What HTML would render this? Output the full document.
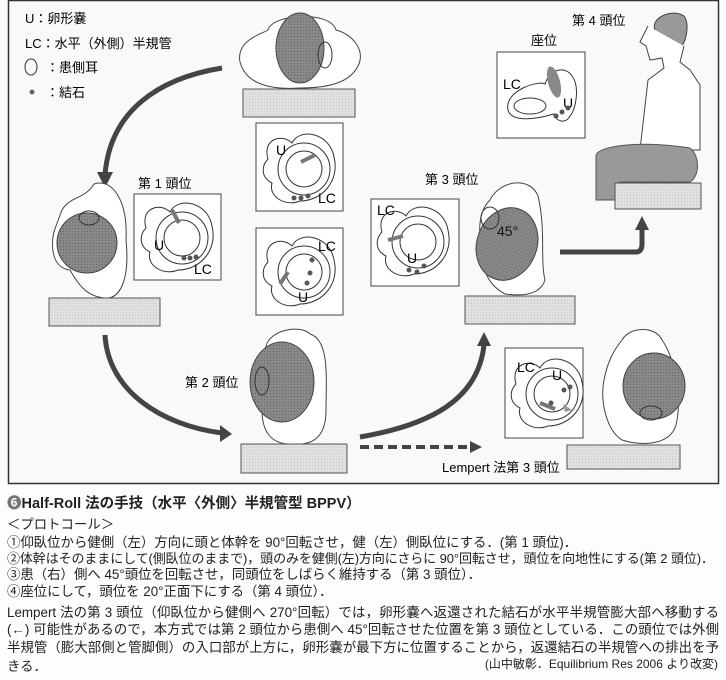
<!DOCTYPE html>
<html><head><meta charset="utf-8"><style>
body{margin:0;background:#fff;}
#w{position:relative;width:726px;height:680px;overflow:hidden;background:#fdfdfc;font-family:"Liberation Sans","Noto Sans CJK JP",sans-serif;color:#222;}
svg{position:absolute;left:0;top:0}
.t{position:absolute;left:7px;font-size:13.4px;line-height:16px;white-space:nowrap;letter-spacing:0}
.j{width:712px;text-align:justify;text-align-last:justify;white-space:normal;height:16px;overflow:hidden}
</style></head><body><div id="w">
<svg width="726" height="490" viewBox="0 0 726 490" font-family="Liberation Sans, Noto Sans CJK JP, sans-serif">
<defs>
<pattern id="g" width="3" height="3" patternUnits="userSpaceOnUse"><rect width="3" height="3" fill="#e0e0e0"/><rect width="1" height="1" fill="#c8c8c8"/></pattern>
<pattern id="h" width="3" height="3" patternUnits="userSpaceOnUse"><rect width="3" height="3" fill="#888"/><rect width="1" height="1" fill="#666"/></pattern>
<g id="canal">
<path d="M-32,-8 C-38,-28 -18,-34 -8,-24 C0,-40 30,-34 34,-10 C40,14 22,34 0,34 C-14,40 -32,30 -28,16 C-40,10 -38,-2 -32,-8 Z" fill="#fff" stroke="#333" stroke-width="1"/>
<circle cx="4" cy="2" r="26" fill="none" stroke="#333" stroke-width="1"/>
<circle cx="4" cy="2" r="18" fill="#fff" stroke="#333" stroke-width="1"/>
</g>
</defs>
<rect x="8.5" y="0.5" width="710" height="483" fill="#f9f9f8" stroke="#333" stroke-width="1.5"/>
<text x="25" y="23" font-size="13">U：卵形嚢</text>
<text x="25" y="48" font-size="13">LC：水平（外側）半規管</text>
<ellipse cx="31" cy="67" rx="6" ry="8" fill="none" stroke="#333"/>
<text x="46" y="72" font-size="13">：患側耳</text>
<circle cx="32" cy="92" r="2.5" fill="#666"/>
<text x="46" y="97" font-size="13">：結石</text>
<path d="M240,62 C236,40 262,34 268,30 C272,14 330,10 336,30 C352,34 366,50 358,66 C350,82 330,88 300,88 C270,90 246,84 240,62Z" fill="#fff" stroke="#444"/>
<ellipse cx="300" cy="48" rx="24" ry="35" fill="url(#h)" stroke="#444"/>
<ellipse cx="325" cy="55" rx="7" ry="13" fill="none" stroke="#333"/>
<rect x="243" y="89" width="112" height="28" fill="url(#g)" stroke="#555"/>
<rect x="256" y="123" width="87" height="88" fill="#fff" stroke="#444"/>
<use href="#canal" x="300" y="167"/>
<text x="276" y="155" font-size="14">U</text><text x="318" y="203" font-size="14">LC</text>
<line x1="301" y1="162" x2="315" y2="155" stroke="#777" stroke-width="4"/>
<circle cx="294" cy="198" r="2.5" fill="#555"/><circle cx="301" cy="198" r="2.5" fill="#555"/><circle cx="308" cy="196" r="2.5" fill="#555"/>
<rect x="256" y="228" width="87" height="87" fill="#fff" stroke="#444"/>
<use href="#canal" x="300" y="270"/>
<text x="318" y="251" font-size="14">LC</text><text x="298" y="302" font-size="14">U</text>
<line x1="280" y1="284" x2="288" y2="272" stroke="#777" stroke-width="4"/>
<circle cx="312" cy="260" r="2.5" fill="#555"/><circle cx="310" cy="273" r="2.5" fill="#555"/><circle cx="307" cy="283" r="2.5" fill="#555"/>
<path d="M222,68 C160,78 110,110 105,175" fill="none" stroke="#444" stroke-width="5"/>
<polygon points="97,172 113,172 105,188" fill="#444"/>
<text x="138" y="188" font-size="13">第 1 頭位</text>
<path d="M62,210 C70,196 84,200 94,184 C112,178 128,200 126,240 C130,280 120,300 104,298 C86,296 78,284 70,270 C50,268 50,240 56,226 Z" fill="#fff" stroke="#444"/>
<ellipse cx="87" cy="243" rx="30" ry="30" fill="url(#h)" stroke="#444"/>
<ellipse cx="89" cy="218" rx="10" ry="7" fill="none" stroke="#333"/>
<rect x="49" y="298" width="111" height="28" fill="url(#g)" stroke="#555"/>
<rect x="134" y="194" width="87" height="86" fill="#fff" stroke="#444"/>
<use href="#canal" x="178" y="236"/>
<text x="154" y="250" font-size="14">U</text><text x="194" y="274" font-size="14">LC</text>
<line x1="172" y1="210" x2="179" y2="223" stroke="#777" stroke-width="4"/>
<circle cx="184" cy="258" r="2.5" fill="#555"/><circle cx="190" cy="258" r="2.5" fill="#555"/><circle cx="196" cy="257" r="2.5" fill="#555"/>
<path d="M105,335 C108,390 160,425 222,433" fill="none" stroke="#444" stroke-width="5"/>
<polygon points="220,425 232,434 220,442" fill="#444"/>
<text x="185" y="387" font-size="13">第 2 頭位</text>
<path d="M266,346 C270,330 300,324 310,334 C330,340 326,380 326,410 C326,440 310,446 290,444 C270,444 262,430 262,410 C256,380 262,360 266,346Z" fill="#fff" stroke="#444"/>
<ellipse cx="282" cy="382" rx="32" ry="40" fill="url(#h)" stroke="#444"/>
<ellipse cx="262" cy="381" rx="7" ry="14" fill="none" stroke="#333"/>
<rect x="241" y="444" width="106" height="29" fill="url(#g)" stroke="#555"/>
<line x1="360" y1="447" x2="470" y2="447" stroke="#444" stroke-width="4" stroke-dasharray="9,5"/>
<polygon points="470,441 482,447 470,453" fill="#444"/>
<text x="442" y="472" font-size="13">Lempert 法第 3 頭位</text>
<path d="M360,437 C430,425 478,400 484,345" fill="none" stroke="#444" stroke-width="5"/>
<polygon points="477,346 491,346 484,332" fill="#444"/>
<text x="425" y="184" font-size="13">第 3 頭位</text>
<rect x="371" y="199" width="88" height="87" fill="#fff" stroke="#444"/>
<use href="#canal" x="414" y="240"/>
<text x="377" y="215" font-size="14">LC</text><text x="407" y="263" font-size="14">U</text>
<line x1="388" y1="240" x2="403" y2="236" stroke="#777" stroke-width="4"/>
<circle cx="409" cy="270" r="2.5" fill="#555"/><circle cx="417" cy="272" r="2.5" fill="#555"/><circle cx="424" cy="266" r="2.5" fill="#555"/>
<path d="M490,200 C500,180 530,176 538,196 C546,230 540,260 545,280 C540,296 520,296 505,294 C490,286 480,270 484,250 C476,230 480,210 490,200Z" fill="#fff" stroke="#444"/>
<ellipse cx="507" cy="244" rx="30" ry="37" fill="url(#h)" stroke="#444" transform="rotate(20 507 244)"/>
<ellipse cx="490" cy="218" rx="9" ry="11" fill="none" stroke="#333"/>
<text x="497" y="236" font-size="14" fill="#111">45°</text>
<rect x="465" y="296" width="110" height="28" fill="url(#g)" stroke="#555"/>
<path d="M560,252 L636,252 Q642,252 642,244 L642,228" fill="none" stroke="#444" stroke-width="5"/>
<polygon points="635,230 649,230 642,216" fill="#444"/>
<text x="572" y="25" font-size="13">第 4 頭位</text>
<text x="531" y="45" font-size="13">座位</text>
<rect x="497" y="52" width="88" height="86" fill="#fff" stroke="#444"/>
<path d="M508,110 C504,90 540,80 545,84 C550,68 566,66 572,76 C580,86 576,110 570,116 C566,124 556,122 554,114 C540,118 512,124 508,110Z" fill="#fff" stroke="#333"/>
<ellipse cx="530" cy="106" rx="16" ry="8" fill="none" stroke="#333"/>
<ellipse cx="554" cy="82" rx="6" ry="16" fill="#888" transform="rotate(-15 554 82)"/>
<text x="503" y="89" font-size="14">LC</text><text x="563" y="108" font-size="14">U</text>
<circle cx="556" cy="116" r="2.5" fill="#555"/><circle cx="562" cy="112" r="2.5" fill="#555"/><circle cx="568" cy="108" r="2.5" fill="#555"/>
<path d="M655,30 C650,18 672,8 684,16 C690,24 686,40 682,46 L668,52 C660,50 650,46 652,38Z" fill="#999" stroke="#444"/>
<path d="M648,26 L640,42 L646,46 L650,60 L662,58 L664,68 L648,80 L640,150 L700,150 L700,85 L690,70 L680,62 L684,46" fill="#fff" stroke="#444"/>
<path d="M596,156 C596,146 640,140 690,148 C700,156 700,176 690,182 L640,182 L620,182 L616,200 L596,200 Z" fill="#999" stroke="#555"/>
<rect x="615" y="183" width="86" height="26" fill="url(#g)" stroke="#555"/>
<rect x="505" y="348" width="78" height="90" fill="#fff" stroke="#444"/>
<use href="#canal" x="548" y="392"/>
<text x="517" y="372" font-size="14">LC</text><text x="552" y="380" font-size="14">U</text>
<line x1="540" y1="403" x2="555" y2="409" stroke="#777" stroke-width="4"/>
<circle cx="564" cy="390" r="2.5" fill="#555"/><circle cx="570" cy="387" r="2.5" fill="#555"/><circle cx="551" cy="403" r="2.5" fill="#555"/>
<polygon points="563,404 572,410 565,412" fill="#999"/>
<path d="M622,340 C630,326 656,326 662,340 C676,360 682,400 676,425 C670,446 640,446 622,440 C606,430 600,400 604,380 C608,360 614,350 622,340Z" fill="#fff" stroke="#444"/>
<ellipse cx="654" cy="386" rx="31" ry="33" fill="url(#h)" stroke="#444"/>
<ellipse cx="651" cy="413" rx="11" ry="7" fill="none" stroke="#333"/>
<rect x="567" y="445" width="113" height="24" fill="url(#g)" stroke="#555"/>
</svg>
<div class="t" style="top:496px;font-size:14.5px;font-weight:bold"><span style="color:#777">❻</span>Half-Roll 法の手技（水平〈外側〉半規管型 BPPV）</div>
<div class="t" style="top:517px">＜プロトコール＞</div>
<div class="t" style="top:535px">①仰臥位から健側（左）方向に頭と体幹を 90°回転させ，健（左）側臥位にする．(第 1 頭位)．</div>
<div class="t" style="top:551px;font-size:13px;letter-spacing:-0.1px">②体幹はそのままにして(側臥位のままで)，頭のみを健側(左)方向にさらに 90°回転させ，頭位を向地性にする(第 2 頭位)．</div>
<div class="t" style="top:567px">③患（右）側へ 45°頭位を回転させ，同頭位をしばらく維持する（第 3 頭位）．</div>
<div class="t" style="top:584px">④座位にして，頭位を 20°正面下にする（第 4 頭位）．</div>
<div class="t j" style="top:605px">Lempert 法の第 3 頭位（仰臥位から健側へ 270°回転）では，卵形嚢へ返還された結石が水平半規管膨大部へ移動する</div>
<div class="t j" style="top:622px">(←) 可能性があるので，本方式では第 2 頭位から患側へ 45°回転させた位置を第 3 頭位としている．この頭位では外側</div>
<div class="t j" style="top:640px">半規管（膨大部側と管脚側）の入口部が上方に，卵形嚢が最下方に位置することから，返還結石の半規管への排出を予防で</div>
<div class="t" style="top:659px">きる．</div>
<div class="t" style="top:656px;left:auto;right:8px;font-size:12px">(山中敏彰．Equilibrium Res 2006 より改変)</div>
</div></body></html>
